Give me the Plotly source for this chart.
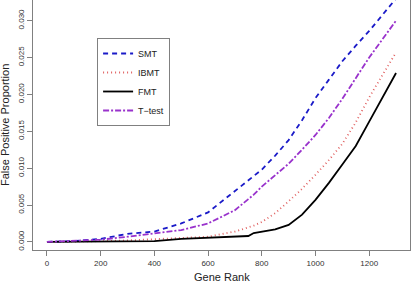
import plotly.graph_objects as go

gene_rank = [0, 100, 200, 300, 400, 500, 600, 700, 750, 770, 800, 850, 900, 950, 1000, 1050, 1100, 1150, 1200, 1250, 1300]
smt = [0, 0.0001, 0.0004, 0.0011, 0.0014, 0.0025, 0.0040, 0.0069, 0.0083, 0.0090, 0.0098, 0.0117, 0.0138, 0.0165, 0.0195, 0.0220, 0.0245, 0.0266, 0.0286, 0.0308, 0.0330]
ibmt = [0, 0.0, 0.0001, 0.0002, 0.0004, 0.0005, 0.0007, 0.0014, 0.0019, 0.0022, 0.0027, 0.0039, 0.0055, 0.0072, 0.0091, 0.0111, 0.0133, 0.0162, 0.0196, 0.0227, 0.0257]
fmt = [0, 0, 0, 0, 0.0001, 0.0004, 0.0006, 0.0007, 0.0008, 0.0012, 0.0014, 0.0017, 0.0023, 0.0037, 0.0057, 0.0080, 0.0105, 0.0130, 0.0163, 0.0197, 0.0229]
ttest = [0, 0.0001, 0.0003, 0.0007, 0.0012, 0.0016, 0.0025, 0.0043, 0.0058, 0.0064, 0.0075, 0.0090, 0.0106, 0.0125, 0.0145, 0.0168, 0.0194, 0.0222, 0.0250, 0.0275, 0.0300]

series = [
    ("SMT", smt, "#1a1ac8", "5px,4px"),
    ("IBMT", ibmt, "#e06060", "1px,3px"),
    ("FMT", fmt, "#000000", "solid"),
    ("T\u2212test", ttest, "#9932cc", "6px,2px,2px,2px"),
]

FONT = "Liberation Sans, Arial"

fig = go.Figure()
for name, vals, color, dash in series:
    fig.add_trace(go.Scatter(x=gene_rank, y=vals, mode="lines", name=name,
                             line=dict(color=color, dash=dash, width=1.8)))

axis_common = dict(showline=True, linecolor="#808080", linewidth=1, mirror=True,
                   ticks="outside", ticklen=5, tickcolor="#808080", showgrid=False,
                   zeroline=False, automargin=False,
                   tickfont=dict(family=FONT, size=8, color="#333"))

fig.update_xaxes(range=[-52, 1352], tickvals=[0, 200, 400, 600, 800, 1000, 1200],
                 **axis_common)
fig.update_yaxes(range=[-0.0011, 0.0328], tickvals=[0, 0.005, 0.01, 0.015, 0.02, 0.025, 0.03],
                 tickformat=".3f", tickangle=-90,
                 **axis_common)

fig.add_annotation(text="Gene Rank", xref="paper", yref="paper", x=0.5, y=-0.106,
                   xanchor="center", yanchor="middle", showarrow=False,
                   font=dict(family=FONT, size=11, color="#222"))
fig.add_annotation(text="False Positive Proportion", xref="paper", yref="paper",
                   x=-0.0743, y=0.5, xanchor="center", yanchor="middle", textangle=-90,
                   showarrow=False, font=dict(family=FONT, size=11, color="#222"))

fig.update_layout(
    width=411, height=283,
    margin=dict(l=33, r=1, t=0, b=33),
    plot_bgcolor="white", paper_bgcolor="white",
    showlegend=True,
    legend=dict(x=0.17, y=0.848, xanchor="left", yanchor="top",
                bordercolor="#808080", borderwidth=1, bgcolor="white",
                font=dict(family=FONT, size=9, color="#222"),
                tracegroupgap=0, itemwidth=30),
)

fig.write_html("out.html", config={"displayModeBar": False},
               post_script="document.body.style.margin='0';document.body.style.overflow='hidden';")
